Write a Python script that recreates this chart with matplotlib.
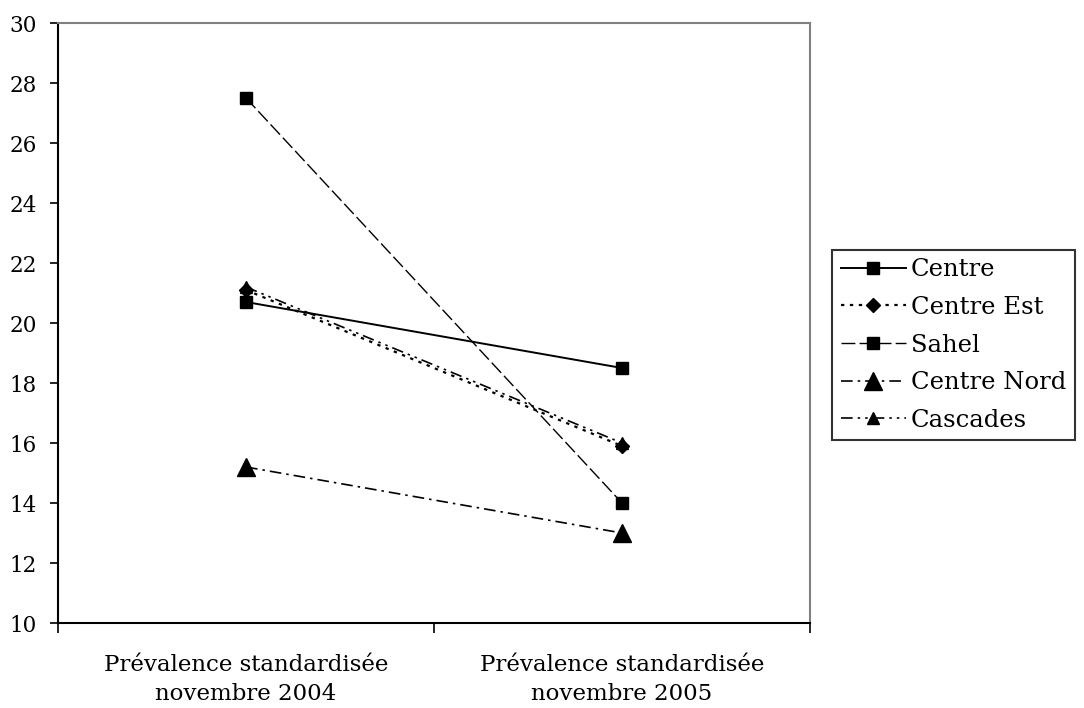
import matplotlib
matplotlib.use("Agg")
import matplotlib.pyplot as plt

plt.rcParams["font.family"] = ["DejaVu Serif"]

periods = ["Prévalence standardisée\nnovembre 2004", "Prévalence standardisée\nnovembre 2005"]
regions = ["Centre", "Centre Est", "Sahel", "Centre Nord", "Cascades"]
centre = [20.7, 18.5]
centre_est = [21.1, 15.9]
sahel = [27.5, 14.0]
centre_nord = [15.2, 13.0]
cascades = [21.2, 16.0]

series = [centre, centre_est, sahel, centre_nord, cascades]
styles = [
    dict(ls="-", marker="s", ms=8, lw=1.4),
    dict(ls=(0, (1.5, 2.5)), marker="D", ms=7, lw=1.6),
    dict(ls=(0, (10, 3)), marker="s", ms=8, lw=1.0),
    dict(ls=(0, (7, 3, 1.5, 3)), marker="^", ms=13, lw=1.2),
    dict(ls=(0, (7, 3, 1.5, 3, 1.5, 3)), marker="^", ms=9, lw=1.2),
]

fig = plt.figure(figsize=(10.84, 7.08), dpi=100)
ax = fig.add_axes([58 / 1084, 85 / 708, 752 / 1084, 600 / 708])

x = list(range(len(periods)))
for name, vals, st in zip(regions, series, styles):
    ax.plot(x, vals, color="black", mfc="black", mec="black", label=name, **st)

ax.set_xlim(-0.5, 1.5)
ax.set_ylim(10, 30)
ax.set_yticks(range(10, 31, 2))
ax.tick_params(axis="y", direction="out", length=6, width=1.2, labelsize=15.5, pad=9)

ax.set_xticks(x)
ax.set_xticklabels(periods, fontsize=16.5, linespacing=1.45)
ax.tick_params(axis="x", which="major", length=0, pad=22)
ax.set_xticks([-0.5, 0.5, 1.5], minor=True)
ax.tick_params(axis="x", which="minor", direction="out", length=7, width=1.2)

ax.spines["left"].set_linewidth(1.5)
ax.spines["bottom"].set_linewidth(1.5)
for side in ("top", "right"):
    ax.spines[side].set_color("#808080")
    ax.spines[side].set_linewidth(1.5)

leg = ax.legend(loc="center left", bbox_to_anchor=(832 / 1084, 1 - 345 / 708),
                bbox_transform=fig.transFigure, frameon=True, fancybox=False,
                fontsize=17.5, handlelength=2.7, handletextpad=0.2,
                labelspacing=0.6, borderpad=0.35, borderaxespad=0)
leg.get_frame().set_edgecolor("black")
leg.get_frame().set_linewidth(1.5)

fig.savefig("out.png", dpi=100)
